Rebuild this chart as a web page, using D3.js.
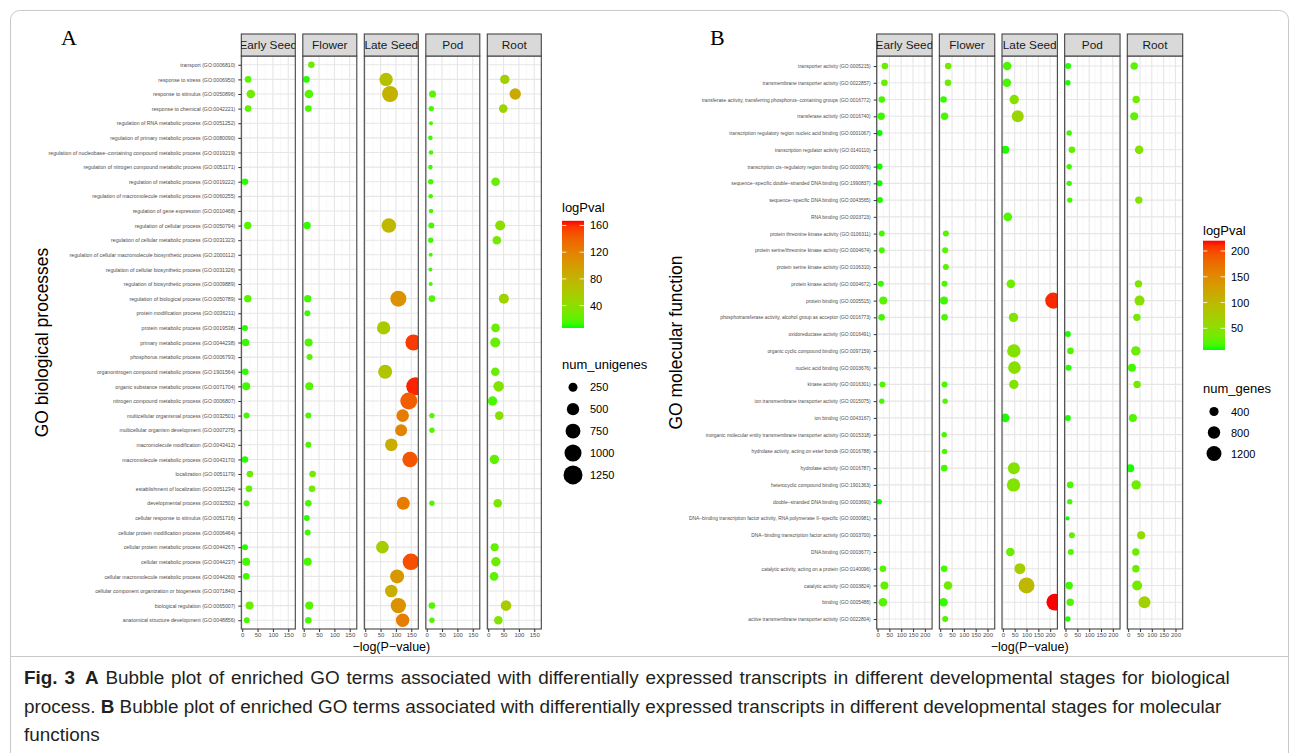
<!DOCTYPE html>
<html>
<head>
<meta charset="utf-8">
<script src="https://cdn.jsdelivr.net/npm/d3@7"></script>
<style>
  body { margin: 0; background: #fff; }
  svg { font-family: "Liberation Sans", Arial, sans-serif; }
</style>
</head>
<body>
<svg id="fig" width="1295" height="753"></svg>
<script>
const stages = ["Early Seed", "Flower", "Late Seed", "Pod", "Root"];

const bpTerms = [
  "transport (GO:0006810)",
  "response to stress (GO:0006950)",
  "response to stimulus (GO:0050896)",
  "response to chemical (GO:0042221)",
  "regulation of RNA metabolic process (GO:0051252)",
  "regulation of primary metabolic process (GO:0080090)",
  "regulation of nucleobase\u2212containing compound metabolic process (GO:0019219)",
  "regulation of nitrogen compound metabolic process (GO:0051171)",
  "regulation of metabolic process (GO:0019222)",
  "regulation of macromolecule metabolic process (GO:0060255)",
  "regulation of gene expression (GO:0010468)",
  "regulation of cellular process (GO:0050794)",
  "regulation of cellular metabolic process (GO:0031323)",
  "regulation of cellular macromolecule biosynthetic process (GO:2000112)",
  "regulation of cellular biosynthetic process (GO:0031326)",
  "regulation of biosynthetic process (GO:0009889)",
  "regulation of biological process (GO:0050789)",
  "protein modification process (GO:0036211)",
  "protein metabolic process (GO:0019538)",
  "primary metabolic process (GO:0044238)",
  "phosphorus metabolic process (GO:0006793)",
  "organonitrogen compound metabolic process (GO:1901564)",
  "organic substance metabolic process (GO:0071704)",
  "nitrogen compound metabolic process (GO:0006807)",
  "multicellular organismal process (GO:0032501)",
  "multicellular organism development (GO:0007275)",
  "macromolecule modification (GO:0043412)",
  "macromolecule metabolic process (GO:0043170)",
  "localization (GO:0051179)",
  "establishment of localization (GO:0051234)",
  "developmental process (GO:0032502)",
  "cellular response to stimulus (GO:0051716)",
  "cellular protein modification process (GO:0006464)",
  "cellular protein metabolic process (GO:0044267)",
  "cellular metabolic process (GO:0044237)",
  "cellular macromolecule metabolic process (GO:0044260)",
  "cellular component organization or biogenesis (GO:0071840)",
  "biological regulation (GO:0065007)",
  "anatomical structure development (GO:0048856)"
];

const mfTerms = [
  "transporter activity (GO:0005215)",
  "transmembrane transporter activity (GO:0022857)",
  "transferase activity, transferring phosphorus\u2212containing groups (GO:0016772)",
  "transferase activity (GO:0016740)",
  "transcription regulatory region nucleic acid binding (GO:0001067)",
  "transcription regulator activity (GO:0140110)",
  "transcription cis\u2212regulatory region binding (GO:0000976)",
  "sequence\u2212specific double\u2212stranded DNA binding (GO:1990837)",
  "sequence\u2212specific DNA binding (GO:0043565)",
  "RNA binding (GO:0003723)",
  "protein threonine kinase activity (GO:0106311)",
  "protein serine/threonine kinase activity (GO:0004674)",
  "protein serine kinase activity (GO:0106310)",
  "protein kinase activity (GO:0004672)",
  "protein binding (GO:0005515)",
  "phosphotransferase activity, alcohol group as acceptor (GO:0016773)",
  "oxidoreductase activity (GO:0016491)",
  "organic cyclic compound binding (GO:0097159)",
  "nucleic acid binding (GO:0003676)",
  "kinase activity (GO:0016301)",
  "ion transmembrane transporter activity (GO:0015075)",
  "ion binding (GO:0043167)",
  "inorganic molecular entity transmembrane transporter activity (GO:0015318)",
  "hydrolase activity, acting on ester bonds (GO:0016788)",
  "hydrolase activity (GO:0016787)",
  "heterocyclic compound binding (GO:1901363)",
  "double\u2212stranded DNA binding (GO:0003690)",
  "DNA\u2212binding transcription factor activity, RNA polymerase II\u2212specific (GO:0000981)",
  "DNA\u2212binding transcription factor activity (GO:0003700)",
  "DNA binding (GO:0003677)",
  "catalytic activity, acting on a protein (GO:0140096)",
  "catalytic activity (GO:0003824)",
  "binding (GO:0005488)",
  "active transmembrane transporter activity (GO:0022804)"
];

// [term row, -log(P-value), num_unigenes]
const bpEarlySeed = [[1,19,116],[2,28,225],[3,19,116],[8,9,116],[11,18,156],[16,18,156],[18,9,89],[19,11,156],
  [21,10,116],[22,13,189],[24,14,89],[27,9,116],[28,25,116],[29,22,116],[30,14,89],[33,9,89],[34,13,189],
  [35,13,116],[37,24,189],[38,15,89]];
const bpFlower = [[0,25,116],[1,9,116],[2,17,225],[3,15,116],[11,11,156],[16,13,156],[17,12,89],[19,16,189],
  [20,19,89],[22,18,189],[24,15,89],[26,15,89],[28,29,116],[29,27,116],[30,15,116],[31,10,89],[32,13,89],
  [34,13,189],[37,18,189],[38,15,116]];
const bpLateSeed = [[1,68,602],[2,81,875],[11,77,722],[16,108,875],[18,60,602],[19,157,875],[21,65,661],
  [22,163,1118],[23,142,993],[24,122,528],[25,117,475],[26,85,528],[27,146,808],[30,124,564],[33,56,528],
  [34,149,945],[35,104,661],[36,85,528],[37,108,808],[38,122,602]];
const bpPod = [[2,19,136],[3,15,65],[4,14,18],[5,12,36],[6,14,36],[7,12,36],[8,13,65],[9,13,36],[10,14,36],
  [11,15,89],[12,13,65],[13,13,18],[14,12,18],[15,13,18],[16,17,116],[24,17,65],[25,17,65],[30,17,65],
  [37,17,116],[38,17,65]];
const bpRoot = [[1,54,276],[2,88,425],[3,49,225],[8,24,225],[11,39,318],[12,28,225],[16,51,318],[18,24,225],
  [19,23,318],[21,23,225],[22,34,362],[23,14,276],[24,36,225],[27,20,276],[30,31,225],[33,21,189],
  [34,25,276],[35,19,225],[37,58,362],[38,33,225]];

// [term row, -log(P-value), num_genes]
const mfEarlySeed = [[0,31,160],[1,29,160],[2,18,160],[3,15.5,225],[4,8.5,116],[6,8.5,116],[7,8.5,116],
  [8,10,116],[10,18,116],[11,18,116],[13,14,116],[14,24,279],[15,17,160],[19,21,116],[20,18,76],[26,7,76],
  [30,22.6,160],[31,29,279],[32,22.6,337]];
const mfFlower = [[0,34,160],[1,33,160],[2,14,160],[3,18.5,225],[10,24,116],[11,21,116],[12,24,116],
  [13,18.5,116],[14,16,279],[15,18.5,160],[19,18.5,116],[20,21,76],[22,17,76],[23,18.5,76],[24,17,160],
  [30,17,160],[31,33,337],[32,14,337],[33,21,116]];
const mfLateSeed = [[0,18.5,337],[1,17,337],[2,48,420],[3,63,744],[5,10,279],[9,21,337],[13,34,337],
  [14,213,1400],[15,45,420],[17,46.5,951],[18,49,830],[19,46.5,420],[21,10,337],[24,46.5,744],[25,45,951],
  [29,31.5,337],[30,72,610],[31,100,1395],[32,220,1550]];
const mfPod = [[0,11,116],[1,10,76],[4,15.5,76],[5,27,160],[6,15.5,76],[7,15.5,76],[8,18,76],[16,10,116],
  [17,21,160],[18,12.5,116],[21,10,116],[25,20,160],[26,18,76],[27,8.5,5],[28,27,116],[29,22.6,116],
  [31,15.5,225],[32,20,225],[33,10,76]];
const mfRoot = [[0,25.6,225],[2,34,225],[3,25.6,279],[5,46.5,337],[8,45,225],[13,43.6,225],[14,48,488],
  [15,37,225],[17,32.5,420],[18,16,279],[19,38,225],[21,20,279],[24,9,279],[25,34,420],[28,55,279],
  [29,32.5,225],[30,32.5,225],[31,38,488],[32,69,744]];

const bpXTicks = [0, 50, 100, 150];
const mfXTicks = [0, 50, 100, 150, 200];
const bpColorTicks = [40, 80, 120, 160];
const mfColorTicks = [50, 100, 150, 200];
const bpSizeBreaks = [250, 500, 750, 1000, 1250];
const mfSizeBreaks = [400, 800, 1200];

const svg = d3.select('#fig');

class BubbleFacets {

  constructor(_config, data) {
    this.config = {
      parentElement: _config.parentElement,
      id: _config.id,
      panelLeft: _config.panelLeft,
      panelWidth: _config.panelWidth,
      panelStep: _config.panelStep,
      panelTop: 56,
      panelBottom: 629,
      stripHeight: 22,
      xDomain: _config.xDomain,
      xTicks: _config.xTicks,
      colorDomain: _config.colorDomain,
      colorTicks: _config.colorTicks,
      sizeDomain: _config.sizeDomain,
      sizeRange: _config.sizeRange,
      sizeBreaks: _config.sizeBreaks,
      sizeTitle: _config.sizeTitle,
      labelSize: _config.labelSize,
      yTitle: _config.yTitle,
      yTitleX: _config.yTitleX,
      legend: _config.legend
    };
    this.data = data;
    this.initVis();
  }

  initVis() {
    let vis = this;
    const c = vis.config;

    vis.chart = c.parentElement.append('g');

    vis.yScale = d3.scalePoint()
        .domain(d3.range(vis.data.terms.length))
        .range([c.panelTop, c.panelBottom])
        .padding(0.6);

    vis.colorScale = d3.scaleLinear()
        .domain(c.colorDomain)
        .range(['#00ff00', '#ff0000'])
        .interpolate(d3.interpolateLab)
        .clamp(true);

    vis.sizeScale = d3.scaleRadial()
        .domain(c.sizeDomain)
        .range(c.sizeRange);

    vis.xScales = stages.map((s, i) => {
      const left = c.panelLeft + i * c.panelStep;
      return d3.scaleLinear().domain(c.xDomain).range([left, left + c.panelWidth]);
    });

    vis.renderVis();
    vis.renderLegend();
  }

  renderVis() {
    let vis = this;
    const c = vis.config;

    stages.forEach((stage, i) => {
      const x = vis.xScales[i];
      const [x0, x1] = x.range();
      const g = vis.chart.append('g');

      g.append('rect')
          .attr('x', x0).attr('y', c.panelTop)
          .attr('width', x1 - x0).attr('height', c.panelBottom - c.panelTop)
          .attr('fill', '#fff');

      // minor + major grid
      const minor = d3.range(25, c.xDomain[1], 50);
      g.selectAll('.minor').data(minor).join('line')
          .attr('x1', d => x(d)).attr('x2', d => x(d))
          .attr('y1', c.panelTop).attr('y2', c.panelBottom)
          .attr('stroke', '#f2f2f2').attr('stroke-width', 0.6);
      g.selectAll('.majorx').data(c.xTicks).join('line')
          .attr('x1', d => x(d)).attr('x2', d => x(d))
          .attr('y1', c.panelTop).attr('y2', c.panelBottom)
          .attr('stroke', '#e6e6e6').attr('stroke-width', 1.1);
      g.selectAll('.majory').data(vis.yScale.domain()).join('line')
          .attr('x1', x0).attr('x2', x1)
          .attr('y1', d => vis.yScale(d)).attr('y2', d => vis.yScale(d))
          .attr('stroke', '#e6e6e6').attr('stroke-width', 1.1);

      // clip points to panel like ggplot
      const clipId = `clip-${c.id}-${i}`;
      g.append('clipPath').attr('id', clipId)
        .append('rect')
          .attr('x', x0).attr('y', c.panelTop)
          .attr('width', x1 - x0).attr('height', c.panelBottom - c.panelTop);

      g.append('g').attr('clip-path', `url(#${clipId})`)
        .selectAll('circle')
        .data(vis.data.series[i])
        .join('circle')
          .attr('cx', d => x(d[1]))
          .attr('cy', d => vis.yScale(d[0]))
          .attr('r', d => vis.sizeScale(d[2]))
          .attr('fill', d => vis.colorScale(d[1]));

      g.append('rect')
          .attr('x', x0).attr('y', c.panelTop)
          .attr('width', x1 - x0).attr('height', c.panelBottom - c.panelTop)
          .attr('fill', 'none').attr('stroke', '#444').attr('stroke-width', 1.1);

      // facet strip
      const stripClip = `strip-${c.id}-${i}`;
      g.append('clipPath').attr('id', stripClip)
        .append('rect')
          .attr('x', x0).attr('y', c.panelTop - c.stripHeight)
          .attr('width', x1 - x0).attr('height', c.stripHeight);
      g.append('rect')
          .attr('x', x0).attr('y', c.panelTop - c.stripHeight)
          .attr('width', x1 - x0).attr('height', c.stripHeight)
          .attr('fill', '#d9d9d9').attr('stroke', '#444').attr('stroke-width', 1.1);
      g.append('text')
          .attr('clip-path', `url(#${stripClip})`)
          .attr('x', (x0 + x1) / 2).attr('y', c.panelTop - c.stripHeight / 2 + 4.2)
          .attr('text-anchor', 'middle')
          .attr('font-size', 11.8).attr('fill', '#1a1a1a')
          .text(stage);

      // x axis
      const xAxisG = g.append('g')
          .attr('transform', `translate(0,${c.panelBottom})`)
          .call(d3.axisBottom(x).tickValues(c.xTicks).tickSize(3).tickPadding(1));
      xAxisG.select('.domain').remove();
      xAxisG.selectAll('line').attr('stroke', '#333');
      xAxisG.selectAll('text').attr('font-size', 6).attr('fill', '#4d4d4d')
          .attr('font-family', '"Liberation Sans", Arial, sans-serif');
    });

    // y axis on the first facet
    const yAxisG = vis.chart.append('g')
        .attr('transform', `translate(${c.panelLeft},0)`)
        .call(d3.axisLeft(vis.yScale).tickSize(3).tickPadding(3)
          .tickFormat(i => vis.data.terms[i]));
    yAxisG.select('.domain').remove();
    yAxisG.selectAll('line').attr('stroke', '#333');
    yAxisG.selectAll('text').attr('font-size', c.labelSize).attr('fill', '#4d4d4d')
        .attr('font-family', '"Liberation Sans", Arial, sans-serif');

    // axis titles
    const midY = (c.panelTop + c.panelBottom) / 2;
    vis.chart.append('text')
        .attr('transform', `translate(${c.yTitleX},${midY}) rotate(-90)`)
        .attr('text-anchor', 'middle')
        .attr('font-size', 17.5).attr('fill', '#000')
        .text(c.yTitle);

    const xMid = (vis.xScales[0].range()[0] + vis.xScales[4].range()[1]) / 2;
    vis.chart.append('text')
        .attr('x', xMid).attr('y', 651)
        .attr('text-anchor', 'middle')
        .attr('font-size', 12.5).attr('fill', '#000')
        .text('\u2212log(P\u2212value)');
  }

  renderLegend() {
    let vis = this;
    const c = vis.config;
    const L = c.legend;
    const g = vis.chart.append('g');

    g.append('text')
        .attr('x', L.x).attr('y', L.titleY)
        .attr('font-size', 13).attr('fill', '#000')
        .text('logPval');

    // colour bar
    const gradId = `grad-${c.id}`;
    const grad = svg.append('defs').append('linearGradient')
        .attr('id', gradId)
        .attr('x1', 0).attr('x2', 0).attr('y1', 1).attr('y2', 0);
    d3.range(0, 1.0001, 0.05).forEach(t => {
      const v = c.colorDomain[0] + t * (c.colorDomain[1] - c.colorDomain[0]);
      grad.append('stop').attr('offset', t).attr('stop-color', vis.colorScale(v));
    });

    const barScale = d3.scaleLinear().domain(c.colorDomain).range([L.barBottom, L.barTop]);
    g.append('rect')
        .attr('x', L.x).attr('y', L.barTop)
        .attr('width', L.barWidth).attr('height', L.barBottom - L.barTop)
        .attr('fill', `url(#${gradId})`);

    const ticks = g.selectAll('.cbtick').data(c.colorTicks).join('g');
    ticks.append('line')
        .attr('x1', L.x).attr('x2', L.x + L.barWidth / 5)
        .attr('y1', d => barScale(d)).attr('y2', d => barScale(d))
        .attr('stroke', '#fff').attr('stroke-width', 0.8);
    ticks.append('line')
        .attr('x1', L.x + L.barWidth * 4 / 5).attr('x2', L.x + L.barWidth)
        .attr('y1', d => barScale(d)).attr('y2', d => barScale(d))
        .attr('stroke', '#fff').attr('stroke-width', 0.8);
    ticks.append('text')
        .attr('x', L.x + L.barWidth + 6).attr('y', d => barScale(d) + 4)
        .attr('font-size', 11).attr('fill', '#000')
        .text(d => d);

    // size legend
    g.append('text')
        .attr('x', L.x).attr('y', L.sizeTitleY)
        .attr('font-size', 13).attr('fill', '#000')
        .text(c.sizeTitle);

    const keys = g.selectAll('.sizekey').data(c.sizeBreaks).join('g')
        .attr('transform', (d, i) => `translate(0,${L.firstKeyY + i * L.keyStep})`);
    keys.append('circle')
        .attr('cx', L.x + 11).attr('cy', 0)
        .attr('r', d => vis.sizeScale(d))
        .attr('fill', '#000');
    keys.append('text')
        .attr('x', L.x + L.barWidth + 6).attr('y', 4)
        .attr('font-size', 11).attr('fill', '#000')
        .text(d => d);
  }
}

// frame and caption
svg.append('rect')
    .attr('x', 10.5).attr('y', 10.5).attr('width', 1278).attr('height', 770)
    .attr('rx', 9).attr('fill', 'none').attr('stroke', '#c9c9c9').attr('stroke-width', 1);
svg.append('line')
    .attr('x1', 10.5).attr('x2', 1288.5).attr('y1', 656.5).attr('y2', 656.5)
    .attr('stroke', '#c9c9c9');

svg.append('text').attr('x', 61).attr('y', 45)
    .attr('font-family', '"Liberation Serif", "DejaVu Serif", serif')
    .attr('font-size', 22).text('A');
svg.append('text').attr('x', 710).attr('y', 45)
    .attr('font-family', '"Liberation Serif", "DejaVu Serif", serif')
    .attr('font-size', 22).text('B');

new BubbleFacets({
  parentElement: svg,
  id: 'bp',
  panelLeft: 241.3,
  panelWidth: 54,
  panelStep: 61.5,
  xDomain: [-3, 173],
  xTicks: bpXTicks,
  colorDomain: [6.5, 167],
  colorTicks: bpColorTicks,
  sizeDomain: [0, 1250],
  sizeRange: [1.66, 9.5],
  sizeBreaks: bpSizeBreaks,
  sizeTitle: 'num_unigenes',
  labelSize: 5.2,
  yTitle: 'GO biological processes',
  yTitleX: 48,
  legend: { x: 562, titleY: 212, barTop: 220.8, barBottom: 328, barWidth: 22,
            sizeTitleY: 368.5, firstKeyY: 387.3, keyStep: 21.9 }
}, { terms: bpTerms, series: [bpEarlySeed, bpFlower, bpLateSeed, bpPod, bpRoot] });

new BubbleFacets({
  parentElement: svg,
  id: 'mf',
  panelLeft: 876.7,
  panelWidth: 55.4,
  panelStep: 62.65,
  xDomain: [-3.6, 230.6],
  xTicks: mfXTicks,
  colorDomain: [7.9, 220],
  colorTicks: mfColorTicks,
  sizeDomain: [0, 1500],
  sizeRange: [2, 8.28],
  sizeBreaks: mfSizeBreaks,
  sizeTitle: 'num_genes',
  labelSize: 4.9,
  yTitle: 'GO molecular function',
  yTitleX: 682,
  legend: { x: 1203, titleY: 234.5, barTop: 240.7, barBottom: 350, barWidth: 22,
            sizeTitleY: 393, firstKeyY: 411.5, keyStep: 21 }
}, { terms: mfTerms, series: [mfEarlySeed, mfFlower, mfLateSeed, mfPod, mfRoot] });

// caption
const capFont = 18.9;
const cap = svg.append('g').attr('font-size', capFont).attr('fill', '#231f20');
const line1 = cap.append('text').attr('x', 24).attr('y', 684).attr('word-spacing', 1.6);
line1.append('tspan').attr('font-weight', 'bold').text('Fig. 3');
line1.append('tspan').attr('dx', 10).attr('font-weight', 'bold').text('A');
line1.append('tspan').text(' Bubble plot of enriched GO terms associated with differentially expressed transcripts in different developmental stages for biological');
const line2 = cap.append('text').attr('x', 24).attr('y', 713);
line2.append('tspan').text('process. ');
line2.append('tspan').attr('font-weight', 'bold').text('B');
line2.append('tspan').text(' Bubble plot of enriched GO terms associated with differentially expressed transcripts in different developmental stages for molecular');
cap.append('text').attr('x', 24).attr('y', 741).text('functions');
</script>
</body>
</html>
